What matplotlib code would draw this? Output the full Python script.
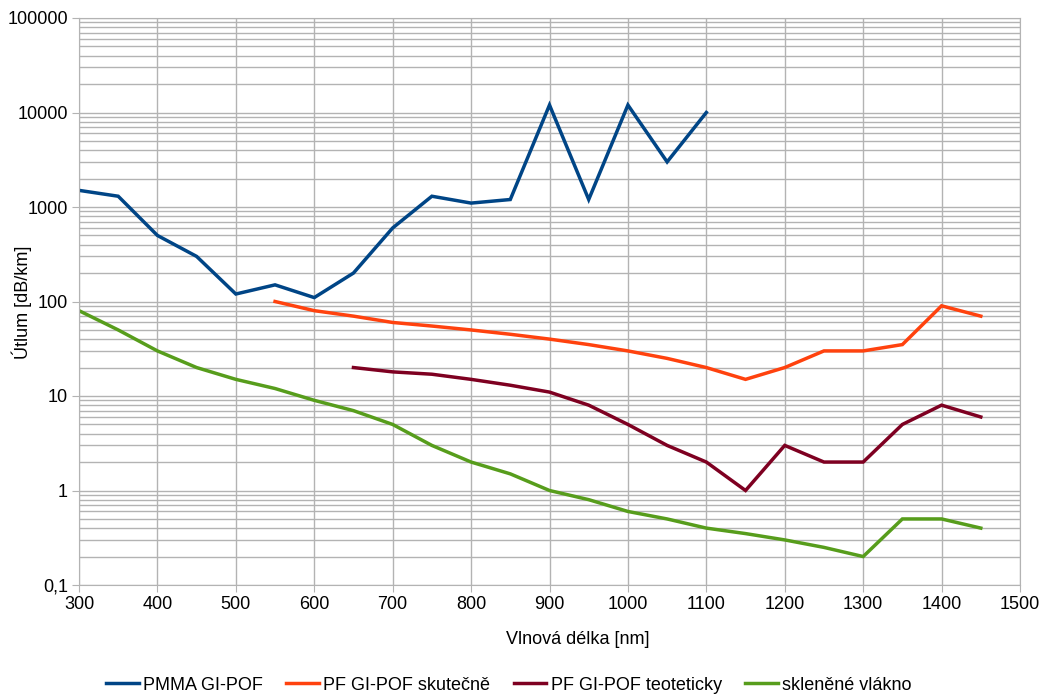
import matplotlib.pyplot as plt
from matplotlib.ticker import FixedLocator, LogLocator, NullFormatter

plt.rcParams['font.family'] = ['Liberation Sans', 'DejaVu Sans']

# Data (vlnová délka [nm] -> útlum [dB/km])
x_pmma = [300, 350, 400, 450, 500, 550, 600, 650, 700, 750, 800, 850, 900, 950, 1000, 1050, 1100]
y_pmma = [1500, 1300, 500, 300, 120, 150, 110, 200, 600, 1300, 1100, 1200, 12000, 1200, 12000, 3000, 10000]

x_pf_real = [550, 600, 650, 700, 750, 800, 850, 900, 950, 1000, 1050, 1100, 1150, 1200, 1250, 1300, 1350, 1400, 1450]
y_pf_real = [100, 80, 70, 60, 55, 50, 45, 40, 35, 30, 25, 20, 15, 20, 30, 30, 35, 90, 70]

x_pf_teor = [650, 700, 750, 800, 850, 900, 950, 1000, 1050, 1100, 1150, 1200, 1250, 1300, 1350, 1400, 1450]
y_pf_teor = [20, 18, 17, 15, 13, 11, 8, 5, 3, 2, 1, 3, 2, 2, 5, 8, 6]

x_sklo = [300, 350, 400, 450, 500, 550, 600, 650, 700, 750, 800, 850, 900, 950, 1000, 1050, 1100,
          1150, 1200, 1250, 1300, 1350, 1400, 1450]
y_sklo = [80, 50, 30, 20, 15, 12, 9, 7, 5, 3, 2, 1.5, 1, 0.8, 0.6, 0.5, 0.4,
          0.35, 0.3, 0.25, 0.2, 0.5, 0.5, 0.4]

serie = [
    (x_pmma, y_pmma, "PMMA GI-POF", "#004586"),
    (x_pf_real, y_pf_real, "PF GI-POF skutečně", "#ff420e"),
    (x_pf_teor, y_pf_teor, "PF GI-POF teoteticky", "#7e0021"),
    (x_sklo, y_sklo, "skleněné vlákno", "#579d1c"),
]

W, H = 1045, 695
fig = plt.figure(figsize=(W / 100, H / 100), dpi=100)
ax = fig.add_axes([79 / W, 1 - 585 / H, (1020 - 79) / W, (585 - 18) / H])

for x, y, nazev, barva in serie:
    ax.plot(x, y, color=barva, linewidth=2.5, label=nazev, solid_joinstyle='miter')

ax.set_yscale('log')
ax.set_ylim(0.1, 100000)
ax.set_xlim(300, 1500)
ax.set_xticks(range(300, 1501, 100))

yt = [0.1, 1, 10, 100, 1000, 10000, 100000]
ax.yaxis.set_major_locator(FixedLocator(yt))
ax.set_yticklabels(["0,1", "1", "10", "100", "1000", "10000", "100000"])
ax.yaxis.set_minor_locator(LogLocator(base=10, subs=range(2, 10), numticks=20))
ax.yaxis.set_minor_formatter(NullFormatter())

ax.grid(True, which='major', color='#b3b3b3', linewidth=1)
ax.grid(True, which='minor', axis='y', color='#b3b3b3', linewidth=1)
ax.set_axisbelow(True)

for s in ax.spines.values():
    s.set_color('#b3b3b3')
ax.tick_params(which='major', length=5, color='#b3b3b3', labelsize=13, pad=3)
ax.tick_params(which='minor', length=0)

# popisky os
fig.text(578 / W, 1 - 640 / H, "Vlnová délka [nm]", fontsize=13, ha='center', va='center')
fig.text(22 / W, 1 - 302 / H, "Útlum [dB/km]", fontsize=13, ha='center', va='center', rotation=90)

fig.legend(*ax.get_legend_handles_labels(), loc='center', bbox_to_anchor=(509 / W, 1 - 685 / H),
           ncol=4, frameon=False, fontsize=13, handlelength=1.8, columnspacing=1.3,
           handletextpad=0.25)

fig.savefig("out.png", dpi=100)
